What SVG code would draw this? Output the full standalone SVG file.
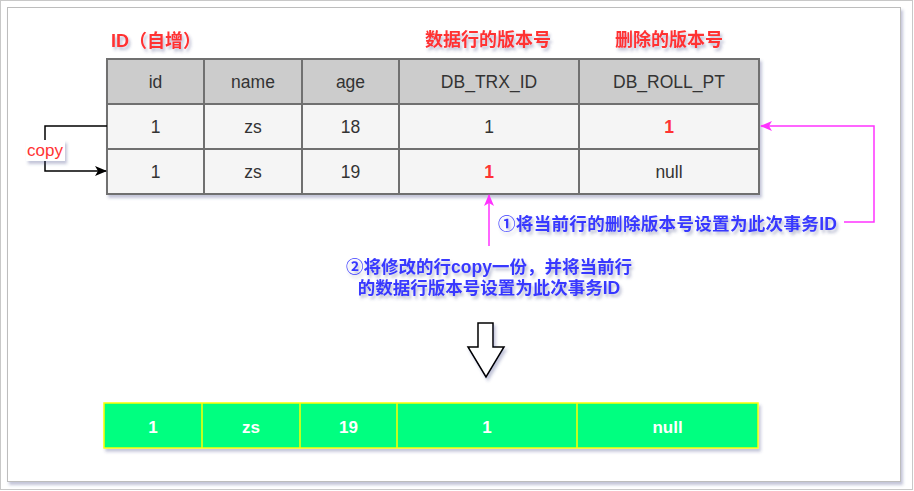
<svg xmlns="http://www.w3.org/2000/svg" width="914" height="491" viewBox="0 0 914 491">
  <defs>
    <filter id="sh" x="-10%" y="-10%" width="130%" height="140%">
      <feDropShadow dx="2" dy="3" stdDeviation="1.5" flood-color="#3a3f80" flood-opacity="0.3"/>
    </filter>
    <filter id="tsh" x="-10%" y="-30%" width="130%" height="180%">
      <feDropShadow dx="2" dy="3" stdDeviation="1.5" flood-color="#3a3f80" flood-opacity="0.35"/>
    </filter>
    <marker id="ab" viewBox="0 0 12 10" refX="11" refY="5" markerWidth="12" markerHeight="10" markerUnits="userSpaceOnUse" orient="auto">
      <path d="M0,0 L12,5 L0,10 L3,5 Z" fill="#000"/>
    </marker>
    <marker id="am" viewBox="0 0 12 10" refX="11" refY="5" markerWidth="12" markerHeight="10" markerUnits="userSpaceOnUse" orient="auto">
      <path d="M0,0 L12,5 L0,10 L3,5 Z" fill="#FF33FF"/>
    </marker>
  </defs>
  <style>
    .hdr { fill: #CCCCCC; stroke: #707070; stroke-width: 2; }
    .cell { fill: #F5F5F5; stroke: #707070; stroke-width: 2; }
    .g { fill: #00FF80; stroke: #FFFF00; stroke-width: 1.5; }
    .t { font-family: "Liberation Sans", Arial, sans-serif; font-size: 17.5px; fill: #333333; text-anchor: middle; dominant-baseline: central; }
    .r { fill: #FF3333; font-weight: bold; }
    .w { font-family: "Liberation Sans", Arial, sans-serif; font-size: 17px; font-weight: bold; fill: #FFFFFF; text-anchor: middle; dominant-baseline: central; }
    .lab { font-family: "Liberation Sans", "Noto Sans CJK SC", sans-serif; font-size: 18px; font-weight: bold; fill: #FF3333; dominant-baseline: central; }
    .blue { font-family: "Liberation Sans", "Noto Sans CJK SC", sans-serif; font-size: 17.5px; font-weight: bold; fill: #3838FF; dominant-baseline: central; }
  </style>

  <rect x="0.5" y="0.5" width="912" height="489" fill="#FFFFFF" stroke="#C8C8C8" stroke-width="1"/>
  <rect x="7.5" y="7.5" width="893" height="474" fill="#FFFFFF" stroke="#BDBDBD" stroke-width="1" filter="url(#sh)"/>

  <g id="labels">
    <text class="lab" x="111" y="41" filter="url(#tsh)">ID（自增）</text>
    <text class="lab" x="488" y="40" text-anchor="middle" filter="url(#tsh)">数据行的版本号</text>
    <text class="lab" x="669" y="40" text-anchor="middle" filter="url(#tsh)">删除的版本号</text>
  </g>

  <g id="table" filter="url(#sh)">
    <rect class="hdr" x="107" y="59" width="652" height="45"/>
    <rect class="cell" x="107" y="104" width="652" height="90"/>
    <path d="M204,59V194 M302,59V194 M399,59V194 M579,59V194 M107,149H759" stroke="#707070" stroke-width="2" fill="none"/>
  </g>
  <g id="table-text">
    <text class="t" x="155.5" y="82">id</text>
    <text class="t" x="253" y="82">name</text>
    <text class="t" x="350.5" y="82">age</text>
    <text class="t" x="489" y="82">DB_TRX_ID</text>
    <text class="t" x="669" y="82">DB_ROLL_PT</text>
    <text class="t" x="155.5" y="127">1</text>
    <text class="t" x="253" y="127">zs</text>
    <text class="t" x="350.5" y="127">18</text>
    <text class="t" x="489" y="127">1</text>
    <text class="t r" x="669" y="127">1</text>
    <text class="t" x="155.5" y="172">1</text>
    <text class="t" x="253" y="172">zs</text>
    <text class="t" x="350.5" y="172">19</text>
    <text class="t r" x="489" y="172">1</text>
    <text class="t" x="669" y="172">null</text>
  </g>

  <g id="connectors" fill="none">
    <path d="M107,126 H45 V171 H106" stroke="#000" stroke-width="1.5" marker-end="url(#ab)"/>
    <path d="M844,222 H874 V126 H761" stroke="#FF33FF" stroke-width="1.5" marker-end="url(#am)"/>
    <path d="M489,246 V195" stroke="#FF33FF" stroke-width="1.5" marker-end="url(#am)"/>
  </g>

  <g id="copy-label">
    <rect x="26" y="140" width="39" height="21" fill="#FFFFFF" filter="url(#sh)"/>
    <text x="45" y="150" font-family="Liberation Sans, Arial, sans-serif" font-size="17px" fill="#FF3333" text-anchor="middle" dominant-baseline="central">copy</text>
  </g>

  <g id="note1">
    <text class="blue" x="498" y="224" textLength="339" lengthAdjust="spacing" filter="url(#tsh)">①将当前行的删除版本号设置为此次事务ID</text>
  </g>
  <g id="note2">
    <text class="blue" x="489" y="267" text-anchor="middle" filter="url(#tsh)">②将修改的行copy一份，并将当前行</text>
    <text class="blue" x="489" y="288" text-anchor="middle" filter="url(#tsh)">的数据行版本号设置为此次事务ID</text>
  </g>

  <g id="down-arrow">
    <path d="M478,323 H493 V347 H504 L486,377 L468,347 H478 Z" fill="#FFFFFF" stroke="#000" stroke-width="1.5" stroke-linejoin="miter" filter="url(#sh)"/>
  </g>

  <g id="new-row">
    <g filter="url(#sh)">
      <rect class="g" x="104" y="403" width="654" height="45"/>
    </g>
    <path d="M202,403V448 M300,403V448 M397,403V448 M577,403V448" stroke="#FFFF00" stroke-width="1.5" fill="none"/>
    <text class="w" x="153" y="427">1</text>
    <text class="w" x="251" y="427">zs</text>
    <text class="w" x="348.5" y="427">19</text>
    <text class="w" x="487" y="427">1</text>
    <text class="w" x="667.5" y="427">null</text>
  </g>
</svg>
